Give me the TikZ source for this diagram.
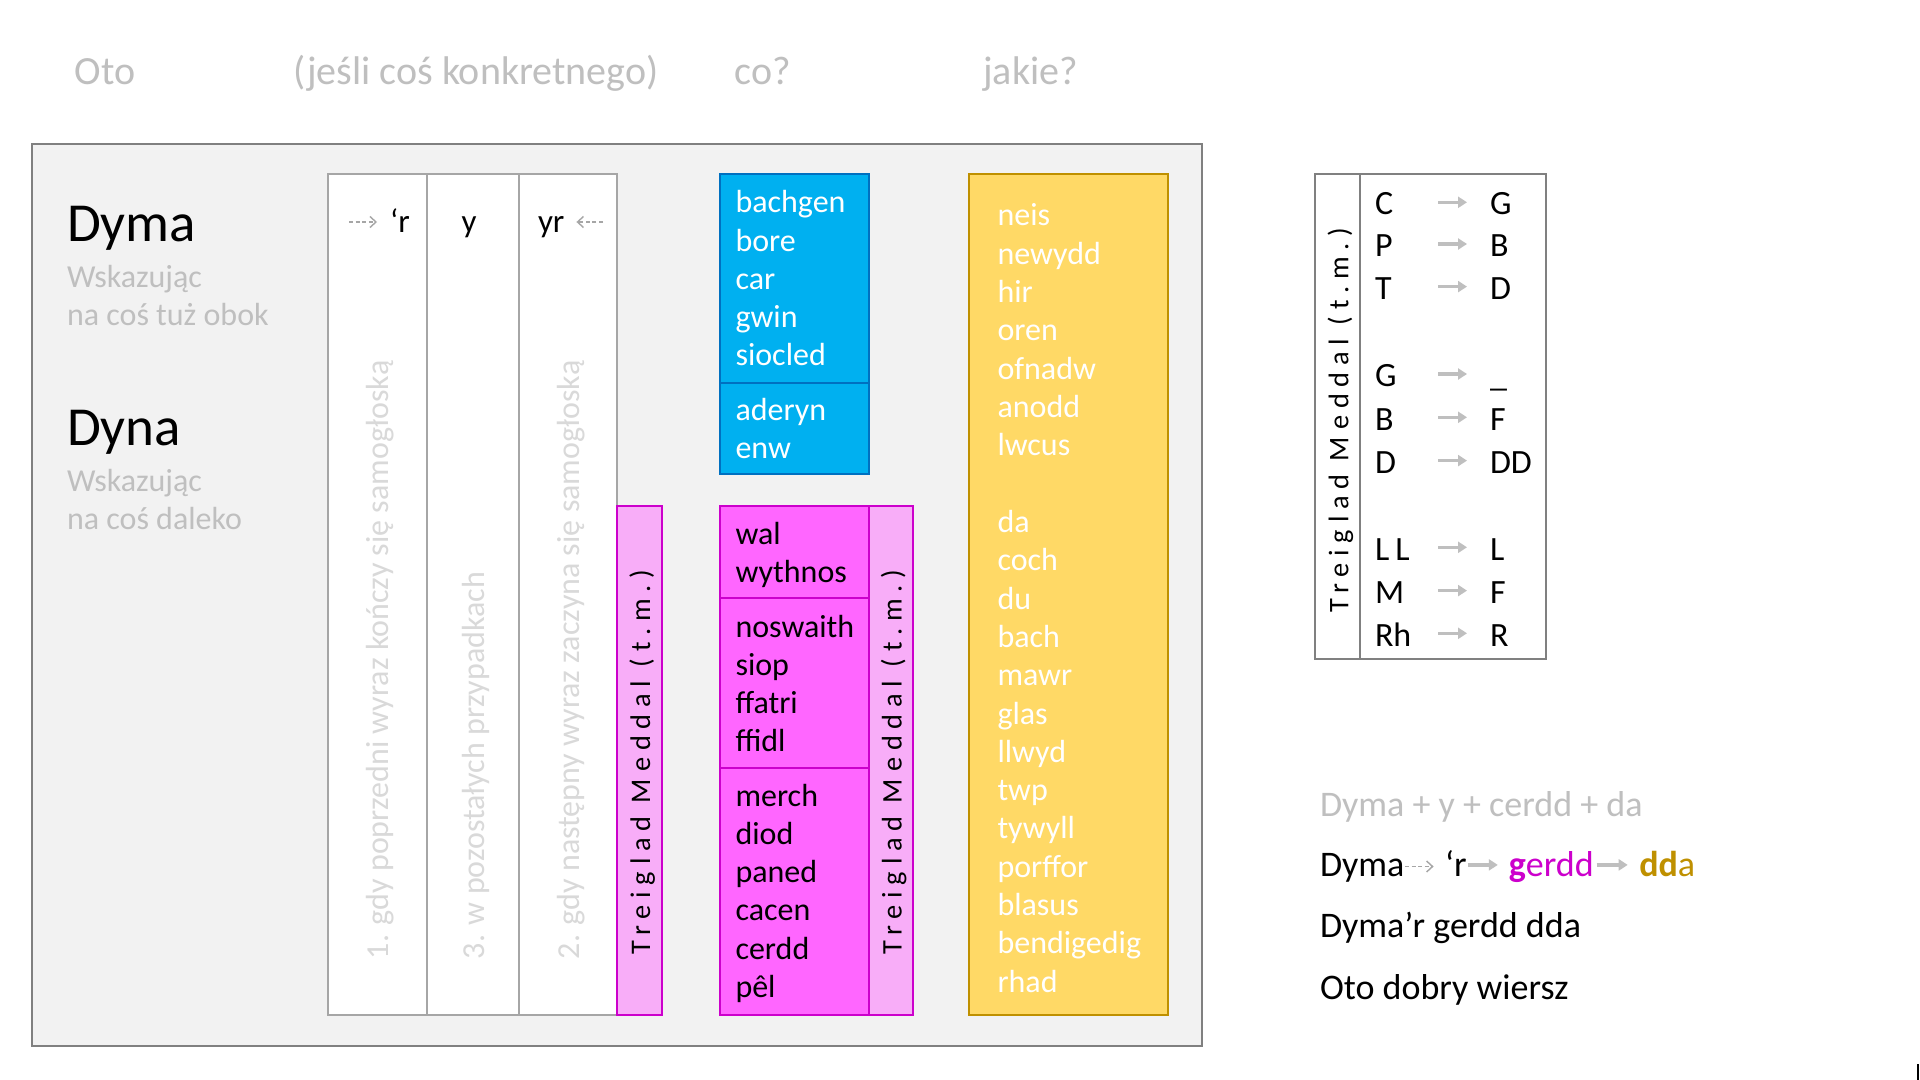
\documentclass[tikz,border=0pt]{standalone}
\usepackage{fontspec}
\setmainfont{Carlito}
\newfontfamily\tmfont[LetterSpace=24]{Carlito}
\usetikzlibrary{arrows.meta}
\definecolor{bgbox}{HTML}{F2F2F2}
\definecolor{panelline}{HTML}{808080}
\definecolor{colline}{HTML}{A6A6A6}
\definecolor{hdrgray}{HTML}{BFBFBF}
\definecolor{rotgray}{HTML}{D9D9D9}
\definecolor{bluefill}{HTML}{00B0F0}
\definecolor{blueline}{HTML}{0070C0}
\definecolor{pinkfill}{HTML}{FF66FF}
\definecolor{stripfill}{HTML}{F8ADF8}
\definecolor{mag}{HTML}{CC00CC}
\definecolor{yelfill}{HTML}{FFD966}
\definecolor{gold}{HTML}{BF9000}
\definecolor{arrgray}{HTML}{A6A6A6}
\definecolor{arrgray2}{HTML}{BFBFBF}
\tikzset{
  txt/.style={inner sep=0pt, outer sep=0pt, anchor=base west},
  hdr/.style={txt, text=hdrgray, font=\fontsize{20}{24}\selectfont},
  title/.style={txt, font=\fontsize{27.5}{32}\selectfont},
  subt/.style={txt, text=hdrgray, font=\fontsize{16}{19}\selectfont},
  colhd/.style={txt, font=\fontsize{16.5}{19}\selectfont},
  word/.style={txt, font=\fontsize{16}{19}\selectfont},
  tword/.style={txt, font=\fontsize{17}{20}\selectfont},
  rot/.style={txt, rotate=90, text=rotgray, font=\fontsize{16}{19}\selectfont},
  tm/.style={inner sep=0pt, outer sep=0pt, anchor=base, rotate=90, font=\tmfont\fontsize{14.2}{16}\selectfont},
  big/.style={txt, font=\fontsize{18}{21}\selectfont},
  panel/.style={draw=panelline, line width=1pt, fill=bgbox},
  wcol/.style={draw=colline, line width=1pt, fill=white},
  colsep/.style={draw=colline, line width=1pt},
  stripbox/.style={draw=mag, line width=1pt, fill=stripfill},
  pinkbox/.style={draw=mag, line width=1pt, fill=pinkfill},
  bluebox/.style={draw=blueline, line width=1pt, fill=bluefill},
  yelbox/.style={draw=gold, line width=1pt, fill=yelfill},
  tablebox/.style={draw=panelline, line width=1pt, fill=white},
  dasharrow/.style={draw=arrgray, line width=0.7pt, dash pattern=on 2pt off 1.3pt, -{Straight Barb[length=3pt,width=5.5pt]}},
  thickarrow/.style={draw=arrgray2, line width=1.7pt, -{Triangle[length=4.5pt,width=5.5pt]}},
}
\begin{document}
\begin{tikzpicture}[x=0.5pt,y=-0.5pt]
\fill[white] (0,0) rectangle (1920,1080);
\useasboundingbox (0,0) rectangle (1920,1080);

% headers
\node[hdr] (hOto) at (74.7,85) {Oto};
\node[hdr] (hJesli) at (293.9,85) {(jeśli coś konkretnego)};
\node[hdr] (hCo) at (734.7,85) {co?};
\node[hdr] (hJakie) at (983.3,85) {jakie?};

% panel
\draw[panel] (31.5,144) rectangle (1202,1046);

% left titles
\node[title] (dyma) at (67,241.5) {Dyma};
\node[subt] (w1) at (67,287.5) {Wskazując};
\node[subt] (w2) at (67,326) {na coś tuż obok};
\node[title] (dyna) at (67,445) {Dyna};
\node[subt] (w3) at (67,491) {Wskazując};
\node[subt] (w4) at (67,529.5) {na coś daleko};

% white columns
\draw[wcol] (328,174) rectangle (617,1015);
\draw[colsep] (427,174) -- (427,1015);
\draw[colsep] (519,174) -- (519,1015);

\node[colhd] (hR) at (390,232.5) {‘r};
\node[colhd, anchor=base] (hY) at (469,232.5) {y};
\node[colhd] (hYr) at (538,232.5) {yr};
\coordinate (raS) at (349,222);
\coordinate (laS) at (603,222);
\draw[dasharrow, shorten >=6.5pt] (raS) -- (raS -| hR.west);
\draw[dasharrow, shorten >=6pt] (laS) -- (laS -| hYr.east);

\node[rot] (r1) at (388,959) {1. gdy poprzedni wyraz kończy się samogłoską};
\node[rot] (r3) at (484,959) {3. w pozostałych przypadkach};
\node[rot] (r2) at (579,959) {2. gdy następny wyraz zaczyna się samogłoską};

% strip 1
\draw[stripbox] (617,506) rectangle (662,1015);
\node[tm] (tm1) at (650,762) {Treiglad Meddal (t.m.)};

% blue box
\draw[bluebox] (720,174) rectangle (869,474);
\draw[draw=blueline, line width=1pt] (720,383) -- (869,383);
\foreach \w [count=\i] in {bachgen,bore,car,gwin,siocled}
  \node[word, text=white] (bl\i) at (735.5,{213+(\i-1)*38.2}) {\w};
\foreach \w [count=\i] in {aderyn,enw}
  \node[word, text=white] (bm\i) at (735.5,{420+(\i-1)*38.3}) {\w};

% pink box
\draw[pinkbox] (720,506) rectangle (869,1015);
\draw[draw=mag, line width=1pt] (720,597.6) -- (869,597.6);
\draw[draw=mag, line width=1pt] (720,767.8) -- (869,767.8);
\foreach \w [count=\i] in {wal,wythnos}
  \node[word] (pa\i) at (735.5,{544.5+(\i-1)*38.3}) {\w};
\foreach \w [count=\i] in {noswaith,siop,ffatri,ffidl}
  \node[word] (pb\i) at (735.5,{637+(\i-1)*38.3}) {\w};
\foreach \w [count=\i] in {merch,diod,paned,cacen,cerdd,pêl}
  \node[word] (pc\i) at (735.5,{806+(\i-1)*38.3}) {\w};

% strip 2
\draw[stripbox] (869,506) rectangle (913,1015);
\node[tm] (tm2) at (901.5,762) {Treiglad Meddal (t.m.)};

% yellow box
\draw[yelbox] (968.7,174) rectangle (1168,1015);
\foreach \w [count=\i] in {neis,newydd,hir,oren,ofnadw,anodd,lwcus}
  \node[word, text=white] (ya\i) at (997.5,{226+(\i-1)*38.3}) {\w};
\foreach \w [count=\i] in {da,coch,du,bach,mawr,glas,llwyd,twp,tywyll,porffor,blasus,bendigedig,rhad}
  \node[word, text=white] (yb\i) at (997.5,{532.5+(\i-1)*38.3}) {\w};

% right table
\draw[tablebox] (1314.7,174) rectangle (1546.3,658.7);
\draw[draw=panelline, line width=1pt] (1360.3,174) -- (1360.3,658.7);
\node[tm] (tm3) at (1348.3,420) {Treiglad Meddal (t.m.)};
\foreach \a/\b/\yy [count=\i] in {C/G/215, P/B/256.7, T/D/299.3, G/\_/386.7, B/F/430, D/DD/473.3, L\kern3pt L/L/560, M/F/603.3, Rh/R/646}{
  \node[tword] (ta\i) at (1375,\yy) {\a};
  \node[tword] (tb\i) at (1490,\yy) {\b};
  \coordinate (aS\i) at (1438,{\yy-12.7});
  \coordinate (aE\i) at (1467,{\yy-12.7});
  \draw[thickarrow] (aS\i) -- (aE\i);
}

% bottom right
\node[big, text=hdrgray] (e1) at (1320,816) {Dyma + y + cerdd + da};
\node[big] (e2a) at (1320,876.5) {Dyma};
\node[big] (e2b) at (1445,876.5) {‘r};
\node[big] (e2c) at (1508.8,876.5) {\textcolor{mag}{\textbf{g}erdd}};
\node[big] (e2d) at (1639.3,876.5) {\textcolor{gold}{\textbf{dd}a}};
\draw[dasharrow, shorten <=0.3pt, shorten >=5.7pt] ([yshift=5pt]e2a.base east) -- ([yshift=5pt]e2b.base west);
\draw[thickarrow, shorten <=0.6pt, shorten >=5.5pt] ([yshift=5.8pt]e2b.base east) -- ([yshift=5.8pt]e2c.base west);
\draw[thickarrow, shorten <=1.5pt, shorten >=5.8pt] ([yshift=5.8pt]e2c.base east) -- ([yshift=5.8pt]e2d.base west);
\node[big] (e3) at (1320,937.5) {Dyma’r gerdd dda};
\node[big] (e4) at (1320,999.5) {Oto dobry wiersz};

\draw[line width=1pt] (1918,1064) -- (1918,1080);
\end{tikzpicture}
\end{document}
